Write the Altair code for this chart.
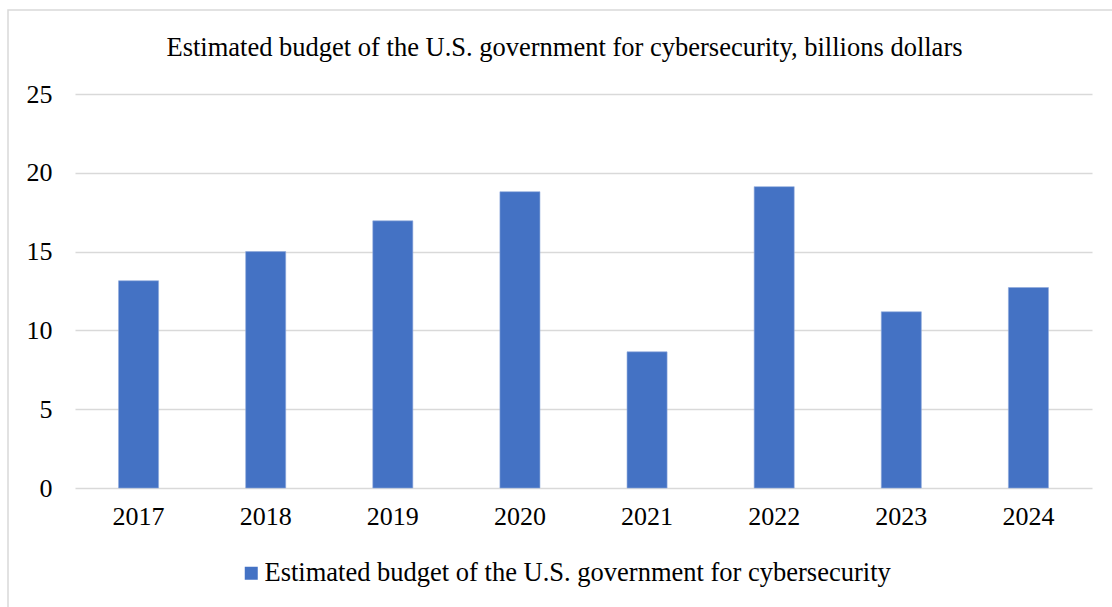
import altair as alt
import pandas as pd

years = ["2017", "2018", "2019", "2020", "2021", "2022", "2023", "2024"]
budget = [13.15, 15.0, 16.95, 18.8, 8.64, 19.12, 11.18, 12.72]
series_name = "Estimated budget of the U.S. government for cybersecurity"
title_text = "Estimated budget of the U.S. government for cybersecurity, billions dollars"
y_ticks = [0, 5, 10, 15, 20, 25]

df = pd.DataFrame({"year": years, "value": budget, "series": [series_name] * len(years)})

FONT = "Liberation Serif"

bars = alt.Chart(df).mark_bar(color="#4472C4", stroke="#8FAADC", strokeWidth=0.6).encode(
    x=alt.X("year:N", sort=years,
            scale=alt.Scale(paddingInner=0.685, paddingOuter=0.3425),
            axis=alt.Axis(title=None, labelAngle=0, domain=False, ticks=False, grid=False,
                          labelPadding=15, labelFontSize=26, labelFont=FONT,
                          labelColor="#000000")),
    y=alt.Y("value:Q", scale=alt.Scale(domain=[0, 25], nice=False),
            axis=alt.Axis(title=None, values=y_ticks, domain=False, ticks=False,
                          grid=True, gridColor="#D9D9D9", gridWidth=1.5,
                          labelPadding=23, labelFontSize=26, labelFont=FONT,
                          labelColor="#000000")),
    fill=alt.Fill("series:N", scale=alt.Scale(range=["#4472C4"]),
                  legend=alt.Legend(title=None, orient="none", legendX=163, legendY=466,
                                    symbolType="square", symbolSize=169,
                                    symbolStrokeWidth=0, labelFontSize=26.5,
                                    labelFont=FONT, labelColor="#000000",
                                    labelOffset=0, labelLimit=1000)),
)

frame = alt.Chart(pd.DataFrame({"a": [0]})).mark_rect(
    fill=None, stroke="#D9D9D9", strokeWidth=1.5
).encode(
    x=alt.value(-67), x2=alt.value(1045), y=alt.value(-84), y2=alt.value(520)
)

title = alt.Chart(pd.DataFrame({"t": [title_text]})).mark_text(
    font=FONT, fontSize=26.5, color="#000000", align="center", baseline="alphabetic"
).encode(
    text="t:N", x=alt.value(489.5), y=alt.value(-38.3)
)

chart = alt.layer(frame, bars, title).properties(
    width=1017, height=394,
    autosize=alt.AutoSizeParams(type="none"),
    padding={"left": 75, "top": 94, "right": 20, "bottom": 119},
    view=alt.ViewBackground(strokeWidth=0, stroke="transparent"),
).configure_view(strokeWidth=0, stroke="transparent").configure(background="white")

chart.save("out.html", embed_options={"renderer": "svg", "actions": False})
